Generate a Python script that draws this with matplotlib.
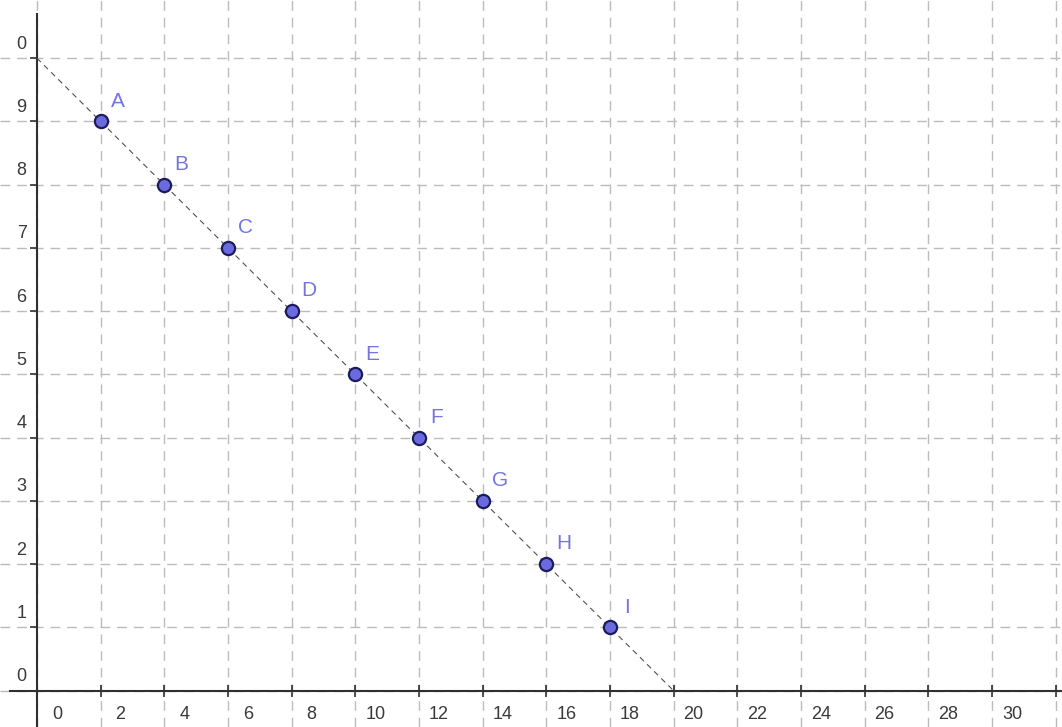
import matplotlib.pyplot as plt

# points on the line
labels = ['A', 'B', 'C', 'D', 'E', 'F', 'G', 'H', 'I']
xs = [2, 4, 6, 8, 10, 12, 14, 16, 18]
ys = [9, 8, 7, 6, 5, 4, 3, 2, 1]

# line ends
line_x = [0, 20]
line_y = [10, 0]

# axis ticks and their labels
x_ticks = list(range(0, 34, 2))
x_labels = ['0', '2', '4', '6', '8', '10', '12', '14', '16', '18', '20',
            '22', '24', '26', '28', '30']
y_ticks = list(range(0, 11))
y_labels = ['0', '1', '2', '3', '4', '5', '6', '7', '8', '9', '0']

plt.rcParams['font.family'] = ['Liberation Sans', 'DejaVu Sans']

fig = plt.figure(figsize=(10.62, 7.27), dpi=100)
ax = fig.add_axes([0, 0, 1, 1])
ax.set_xlim(-1.16, 32.2)
ax.set_ylim(-0.574, 10.92)

# dashed grid
ax.set_xticks(x_ticks)
ax.set_yticks(y_ticks)
ax.grid(True, color='#bcbcbc', linewidth=1.0, linestyle=(0, (7, 5)))
ax.set_axisbelow(True)

# axes through the origin
for side in ['top', 'right']:
    ax.spines[side].set_visible(False)
ax.spines['left'].set_position(('data', 0))
ax.spines['bottom'].set_position(('data', 0))
ax.spines['left'].set_bounds(-0.574, 10.7)
ax.spines['bottom'].set_bounds(-0.85, 32.2)
for side in ['left', 'bottom']:
    ax.spines[side].set_color('#303030')
    ax.spines[side].set_linewidth(1.5)
    ax.spines[side].set_zorder(1.5)
ax.tick_params(axis='x', direction='inout', length=9, width=1.2, color='#303030',
               labelbottom=False)
ax.tick_params(axis='y', direction='out', length=5, width=1.2, color='#303030',
               labelleft=False)

for v, t in zip(x_ticks, x_labels):
    ax.annotate(t, (v, 0), xytext=(14.4, -17.5), textcoords='offset points',
                ha='center', va='center', fontsize=13, color='#3a3a3a')
for v, t in zip(y_ticks, y_labels):
    ax.annotate(t, (0, v), xytext=(-7.5, 10.2), textcoords='offset points',
                ha='right', va='center', fontsize=13, color='#3a3a3a')

# the line and the points
ax.plot(line_x, line_y, color='#505050', linewidth=0.8, linestyle=(0, (5, 4)),
        zorder=2)
ax.plot(xs, ys, linestyle='none', marker='o', markersize=9.5,
        markerfacecolor='#6b6be0', markeredgecolor='#1c1c5c',
        markeredgewidth=1.6, zorder=3)
for x, y, t in zip(xs, ys, labels):
    ax.annotate(t, (x, y), xytext=(12.4, 14.6), textcoords='offset points',
                ha='center', va='center', fontsize=15, color='#7474e4')

fig.savefig('out.png', dpi=100)
